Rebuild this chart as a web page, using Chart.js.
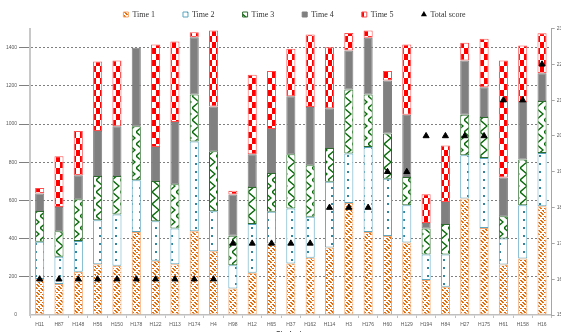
<!DOCTYPE html>
<html>
<head>
<meta charset="utf-8">
<script src="https://cdn.jsdelivr.net/npm/chart.js@4.4.1/dist/chart.umd.min.js"></script>
<style>
  html, body { margin: 0; padding: 0; background: #ffffff; overflow: hidden; }
  #wrap { position: relative; width: 589px; height: 340px; }
</style>
</head>
<body>
<div id="wrap"><canvas id="chart" width="589" height="340"></canvas></div>
<script>
// Students, in the order they are plotted
const students = ['H11','H87','H148','H56','H150','H178','H122','H113','H174','H4','H98','H12','H65','H37',
                  'H162','H114','H3','H176','H60','H129','H194','H84','H27','H175','H61','H158','H16'];

// Score obtained at each time point (stacked)
const time1 = [188,162,226,266,258,435,284,266,439,334,139,221,375,270,300,354,587,435,413,380,183,148,610,456,265,296,570];
const time2 = [195,143,161,230,268,270,207,187,470,209,122,255,165,288,214,343,258,445,301,195,134,169,226,366,136,279,278];
const time3 = [162,134,219,232,202,283,211,232,246,314,154,194,204,283,270,177,336,275,236,148,136,159,213,214,116,239,272];
const time4 = [91,127,126,235,260,411,178,325,299,235,216,171,230,304,305,209,204,296,278,326,29,116,284,157,203,301,146];
const time5 = [29,265,231,364,345,0,536,422,27,397,19,417,303,249,379,319,92,38,49,367,150,296,92,253,613,296,209];

// Total score (right axis)
const totalScore = [160,160,160,160,160,160,160,160,160,160,170,170,170,170,170,180,180,180,190,190,200,200,200,200,210,210,220];

// Axis ranges
const leftRange = { min: 0, max: 1500, step: 200 };
const rightRange = { min: 150, max: 230, step: 10 };

const FONT = 'Liberation Sans, Arial, sans-serif';

function makePattern(w, h, paint) {
  const c = document.createElement('canvas');
  c.width = w; c.height = h;
  const g = c.getContext('2d');
  g.fillStyle = '#ffffff';
  g.fillRect(0, 0, w, h);
  paint(g);
  return g.createPattern(c, 'repeat');
}

// dashed downward diagonals
const patTime1 = makePattern(8, 8, g => {
  g.fillStyle = '#E46C0A';
  [[0,0],[1,1],[2,2],[4,4],[5,5],[6,6],[6,2],[7,3],[0,4],[2,6],[3,7],[4,0]]
    .forEach(([x, y]) => g.fillRect(x, y, 2, 1));
});
// sparse dots
const patTime2 = makePattern(8, 8, g => {
  g.fillStyle = '#31859C';
  g.fillRect(3, 3, 2, 2);
});
// zigzag
const patTime3 = makePattern(8, 12, g => {
  g.strokeStyle = '#0B6A0B';
  g.lineWidth = 1.4;
  g.beginPath();
  g.moveTo(0, 0); g.lineTo(7, 6); g.lineTo(0, 12);
  g.stroke();
});
// checkerboard
const patTime5 = makePattern(8, 12, g => {
  g.fillStyle = '#FF0000';
  g.fillRect(0, 0, 4, 6);
  g.fillRect(4, 6, 4, 6);
});

function barSet(label, data, fill, border) {
  return {
    type: 'bar',
    label: label,
    data: data,
    backgroundColor: fill,
    borderColor: border,
    borderWidth: c => (c.raw === 0 ? 0 : 1),
    borderSkipped: false,
    yAxisID: 'y',
    order: 1,
    barPercentage: 0.47,
    categoryPercentage: 1.0
  };
}

new Chart(document.getElementById('chart'), {
  data: {
    labels: students,
    datasets: [
      barSet('Time 1', time1, patTime1, '#F4A46A'),
      barSet('Time 2', time2, patTime2, '#5AA6C0'),
      barSet('Time 3', time3, patTime3, '#2D6A2D'),
      barSet('Time 4', time4, '#808080', '#808080'),
      barSet('Time 5', time5, patTime5, '#FF4D4D'),
      {
        type: 'line',
        label: 'Total score',
        data: totalScore,
        yAxisID: 'y1',
        showLine: false,
        pointStyle: 'triangle',
        pointRadius: 3.5,
        pointBorderWidth: 1,
        pointBackgroundColor: '#000000',
        pointBorderColor: '#000000',
        order: 0
      }
    ]
  },
  options: {
    responsive: false,
    animation: false,
    layout: { padding: { top: -17.5, left: 0, right: 0, bottom: 0 } },
    plugins: {
      tooltip: { enabled: false },
      legend: {
        position: 'top',
        labels: {
          usePointStyle: true,
          boxWidth: 5,
          boxHeight: 5,
          padding: 28,
          color: '#333333',
          font: { size: 8, family: 'Liberation Serif, Times New Roman, serif' },
          sort: (a, b) => a.datasetIndex - b.datasetIndex,
          generateLabels(chart) {
            const items = Chart.defaults.plugins.legend.labels.generateLabels(chart);
            items.forEach(it => {
              const ds = chart.data.datasets[it.datasetIndex];
              if (ds.type === 'line') {
                it.pointStyle = 'triangle';
                it.fillStyle = '#000000';
                it.strokeStyle = '#000000';
                it.lineWidth = 0;
              } else {
                it.pointStyle = 'rect';
                it.lineWidth = 1;
              }
            });
            return items;
          }
        }
      }
    },
    scales: {
      x: {
        stacked: true,
        offset: true,
        grid: { display: true, drawOnChartArea: false, drawTicks: true, tickLength: 3, tickColor: '#BFBFBF', offset: true },
        border: { color: '#BFBFBF', width: 1.5 },
        ticks: { font: { size: 5, family: FONT }, color: '#595959', padding: 4, maxRotation: 0, autoSkip: false },
        title: { display: true, text: 'Students', color: '#404040', font: { size: 7, weight: 'bold', family: FONT }, padding: { top: 0, bottom: 2 } },
        afterFit: s => { s.height = 25; }
      },
      y: {
        type: 'linear',
        position: 'left',
        stacked: true,
        min: leftRange.min,
        max: leftRange.max,
        ticks: {
          stepSize: leftRange.step,
          includeBounds: false,
          font: { size: 5, family: FONT },
          color: '#595959',
          padding: 2,
          callback: v => String(v)
        },
        grid: {
          color: c => (c.tick && c.tick.value === 0 ? 'rgba(0,0,0,0)' : '#7F7F7F'),
          lineWidth: 1,
          tickLength: 11
        },
        border: { display: true, color: '#C8C8C8', width: 2, dash: [2, 2] },
        afterFit: s => { s.width = 30; }
      },
      y1: {
        type: 'linear',
        position: 'right',
        min: rightRange.min,
        max: rightRange.max,
        ticks: { stepSize: rightRange.step, font: { size: 5, family: FONT }, color: '#595959', padding: 2, callback: v => String(v) },
        grid: { drawOnChartArea: false, tickLength: 3, tickColor: '#A6A6A6' },
        border: { color: '#A6A6A6', width: 1 },
        afterFit: s => { s.width = 37.3; }
      }
    }
  }
});
</script>
</body>
</html>
